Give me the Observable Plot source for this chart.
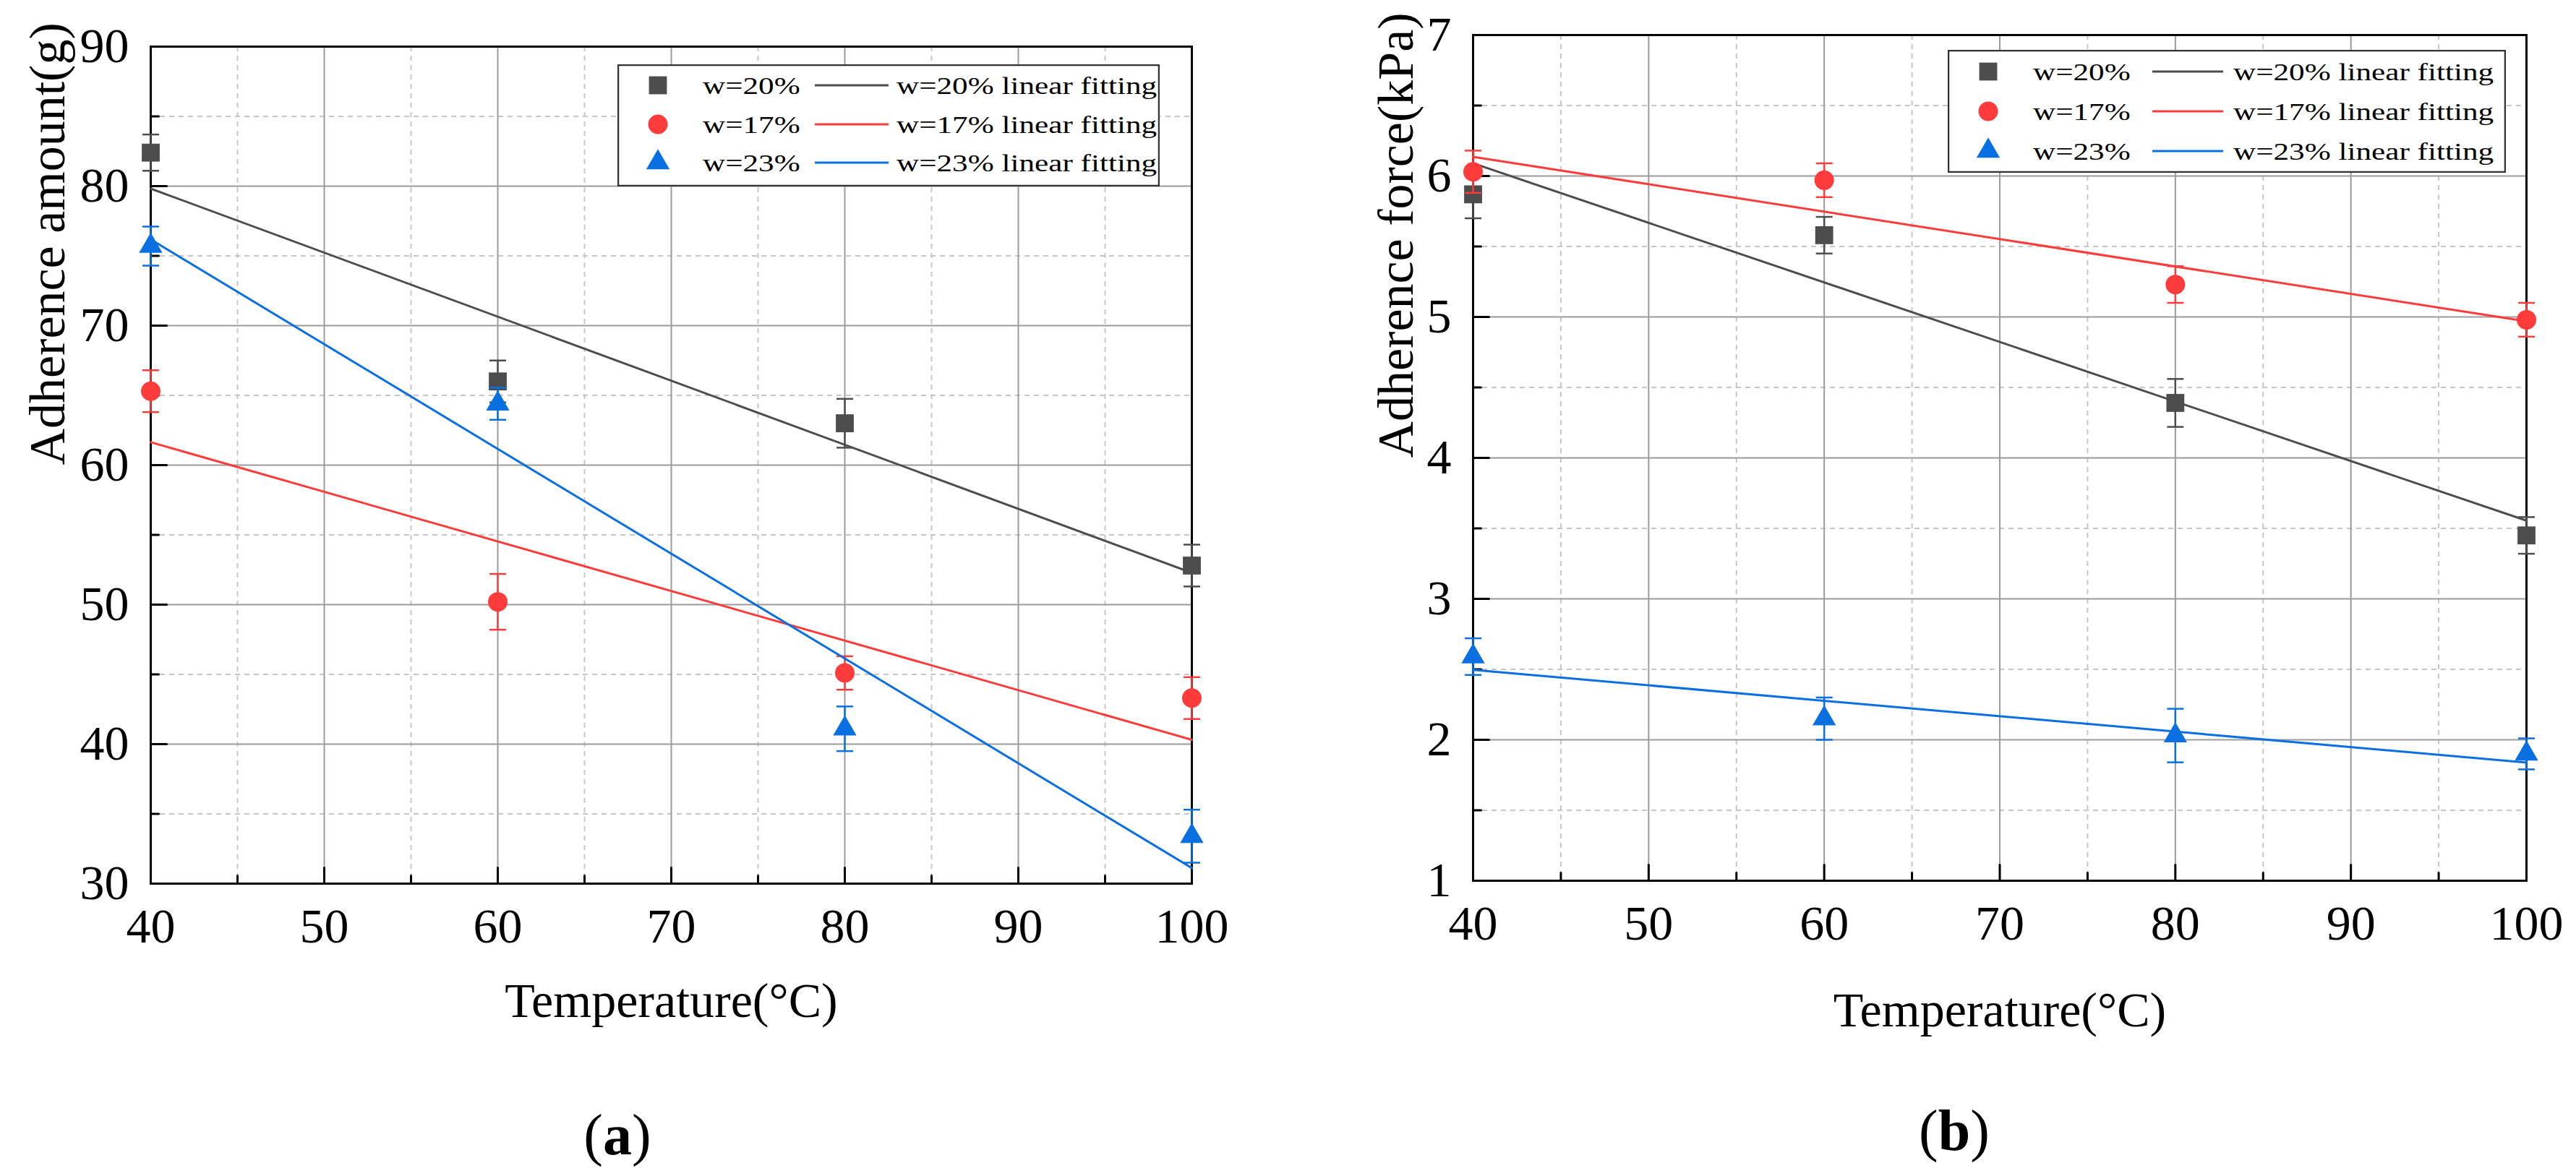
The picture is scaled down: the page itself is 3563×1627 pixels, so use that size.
<!DOCTYPE html>
<div id="fig">
  <div id="panelA" class="panel"></div>
  <div id="panelB" class="panel"></div>
  <div class="cap" id="capA">(<b>a</b>)</div>
  <div class="cap" id="capB">(<b>b</b>)</div>
</div>
<script src="https://cdn.jsdelivr.net/npm/d3@7"></script>
<script src="https://cdn.jsdelivr.net/npm/@observablehq/plot@0.6"></script>
<script>

// data
const temps = [40, 60, 80, 100];
const moisture = ['w=20%', 'w=17%', 'w=23%'];
const colors = ['#4d4d4d', '#ff3b3b', '#0a6fe0'];
const symbols = ['square', 'circle', 'triangle'];
const symbolR = [14, 13.5, 12];

// (a) adherence amount, g
const amount20 = [82.4, 66.0, 63.0, 52.8];
const amount17 = [65.3, 50.2, 45.1, 43.3];
const amount23 = [75.7, 64.4, 41.1, 33.4];
const amountErr20 = [1.3, 1.5, 1.75, 1.5];
const amountErr17 = [1.5, 2.0, 1.2, 1.5];
const amountErr23 = [1.4, 1.15, 1.6, 1.9];

// (b) adherence force, kPa
const force20 = [5.87, 5.58, 4.39, 3.45];
const force17 = [6.03, 5.97, 5.23, 4.98];
const force23 = [2.59, 2.15, 2.03, 1.90];
const forceErr20 = [0.17, 0.13, 0.17, 0.13];
const forceErr17 = [0.15, 0.12, 0.13, 0.12];
const forceErr23 = [0.13, 0.15, 0.19, 0.11];

const xMajor = [40, 50, 60, 70, 80, 90, 100];
const xMinor = [45, 55, 65, 75, 85, 95];
const amountMajor = [30, 40, 50, 60, 70, 80, 90];
const amountMinor = [35, 45, 55, 65, 75, 85];
const forceMajor = [1, 2, 3, 4, 5, 6, 7];
const forceMinor = [1.5, 2.5, 3.5, 4.5, 5.5, 6.5];

const serif = "'Liberation Serif', 'Times New Roman', serif";
const cap = { draw(ctx) { ctx.moveTo(-11.5, 0); ctx.lineTo(11.5, 0); } };
const tick = { draw(ctx, l) { ctx.moveTo(0, 0); ctx.lineTo(0, -l); } };

function panel(p) {
	const marks = [
		Plot.gridX(xMinor, { stroke: '#c6c6c6', strokeOpacity: 1, strokeWidth: 2, strokeDasharray: '7,6' }),
		Plot.gridY(p.yMinor, { stroke: '#c6c6c6', strokeOpacity: 1, strokeWidth: 2, strokeDasharray: '7,6' }),
		Plot.gridX(xMajor, { stroke: '#9b9b9b', strokeOpacity: 1, strokeWidth: 2 }),
		Plot.gridY(p.yMajor, { stroke: '#9b9b9b', strokeOpacity: 1, strokeWidth: 2 }),
		Plot.vector(xMajor, { x: d => d, frameAnchor: 'bottom', length: 22, rotate: 0, anchor: 'start', shape: tick, stroke: 'black', strokeWidth: 3 }),
		Plot.vector(xMinor, { x: d => d, frameAnchor: 'bottom', length: 11, rotate: 0, anchor: 'start', shape: tick, stroke: 'black', strokeWidth: 3 }),
		Plot.vector(p.yMajor, { y: d => d, frameAnchor: 'left', length: 22, rotate: 90, anchor: 'start', shape: tick, stroke: 'black', strokeWidth: 3 }),
		Plot.vector(p.yMinor, { y: d => d, frameAnchor: 'left', length: 11, rotate: 90, anchor: 'start', shape: tick, stroke: 'black', strokeWidth: 3 }),
		Plot.frame({ stroke: 'black', strokeWidth: 3 }),
		// tick labels
		Plot.text(xMajor, { x: d => d, text: d => String(d), frameAnchor: 'bottom', dy: 33, lineAnchor: 'top', fontSize: 68, fontFamily: serif }),
		Plot.text(p.yMajor, { y: d => d, text: d => String(d), frameAnchor: 'left', dx: -30, textAnchor: 'end', lineAnchor: 'middle', fontSize: 68, fontFamily: serif }),
		Plot.text(['Temperature(°C)'], { frameAnchor: 'bottom', dy: p.xLabelDy, lineAnchor: 'middle', fontSize: 68, fontFamily: serif }),
		Plot.text([p.yLabel], { frameAnchor: 'left', dx: p.yLabelDx, rotate: -90, lineAnchor: 'middle', fontSize: 70, fontFamily: serif }),
	];
	moisture.forEach((w, i) => {
		const d = temps.map((t, j) => ({ t: t, v: p.series[i][j], e: p.errors[i][j] }));
		marks.push(
			Plot.linearRegressionY(d, { x: 't', y: 'v', stroke: colors[i], strokeWidth: 3, ci: 0 }),
			Plot.ruleX(d, { x: 't', y1: r => r.v - r.e, y2: r => r.v + r.e, stroke: colors[i], strokeWidth: 2.5 }),
			Plot.dot(d, { x: 't', y: r => r.v + r.e, symbol: cap, fill: 'none', stroke: colors[i], strokeWidth: 2.5 }),
			Plot.dot(d, { x: 't', y: r => r.v - r.e, symbol: cap, fill: 'none', stroke: colors[i], strokeWidth: 2.5 }),
			Plot.dot(d, { x: 't', y: 'v', symbol: symbols[i], r: symbolR[i], fill: colors[i], stroke: 'none' }),
		);
	});
	return Plot.plot({
		width: p.width,
		height: 1440,
		marginLeft: p.marginLeft,
		marginRight: p.marginRight,
		marginTop: p.marginTop,
		marginBottom: p.marginBottom,
		x: { domain: [40, 100], axis: null },
		y: { domain: p.yDomain, axis: null },
		style: { fontFamily: serif, fontSize: '68px', background: 'white', overflow: 'visible', color: 'black' },
		marks: marks,
	});
}

function legend(host, box) {
	const svg = d3.select(host).append('svg')
		.attr('class', 'legend')
		.attr('width', box.width).attr('height', box.height)
		.attr('font-family', serif).attr('font-size', 34)
		.style('left', box.left + 'px').style('top', box.top + 'px');
	svg.append('rect').attr('x', 1).attr('y', 1).attr('width', box.width - 2).attr('height', box.height - 2)
		.attr('fill', 'white').attr('stroke', '#333').attr('stroke-width', 2.5);
	const shapes = [d3.symbolSquare, d3.symbolCircle, d3.symbolTriangle];
	moisture.forEach((w, i) => {
		const g = svg.append('g').attr('transform', `translate(0,${box.rows[i]})`);
		g.append('path').attr('d', d3.symbol(shapes[i], Math.PI * symbolR[i] ** 2)())
			.attr('transform', 'translate(56,0)').attr('fill', colors[i]);
		g.append('text').text(w).attr('transform', 'translate(118,0) scale(1.27,1)').attr('dy', '0.35em');
		g.append('line').attr('x1', box.line[0]).attr('x2', box.line[1]).attr('stroke', colors[i]).attr('stroke-width', 3);
		g.append('text').text(w + ' linear fitting').attr('transform', `translate(${box.text2},0) scale(1.27,1)`).attr('dy', '0.35em');
	});
}

const fig = document.querySelector('#fig');

document.querySelector('#panelA').append(panel({
	series: [amount20, amount17, amount23],
	errors: [amountErr20, amountErr17, amountErr23],
	yDomain: [30, 90], yMajor: amountMajor, yMinor: amountMinor,
	yLabel: 'Adherence amount(g)',
	width: 1780, marginLeft: 208, marginRight: 132, marginTop: 64, marginBottom: 218,
	xLabelDy: 163, yLabelDx: -142,
}));

document.querySelector('#panelB').append(panel({
	series: [force20, force17, force23],
	errors: [forceErr20, forceErr17, forceErr23],
	yDomain: [1, 7], yMajor: forceMajor, yMinor: forceMinor,
	yLabel: 'Adherence force(kPa)',
	width: 1783, marginLeft: 257, marginRight: 69, marginTop: 48, marginBottom: 222,
	xLabelDy: 180, yLabelDx: -106,
}));

legend(fig, { left: 854, top: 89, width: 750, height: 169, rows: [29, 83, 136], line: [273, 375], text2: 386 });
legend(fig, { left: 2694, top: 69, width: 772, height: 170, rows: [30, 85, 140], line: [283, 381], text2: 395 });

</script>
<style>

html, body {
	margin: 0;
	background: white;
}

#fig {
	position: relative;
	width: 3563px;
	height: 1627px;
	font-family: 'Liberation Serif', 'Times New Roman', serif;
}

.panel {
	position: absolute;
	top: 0;
}

#panelA { left: 0; }
#panelB { left: 1780px; }

.legend {
	position: absolute;
}

.cap {
	position: absolute;
	font-size: 80px;
	transform: translate(-50%, -50%);
	white-space: nowrap;
}

#capA { left: 854px; top: 1570px; }
#capB { left: 2703px; top: 1564px; }

</style>
